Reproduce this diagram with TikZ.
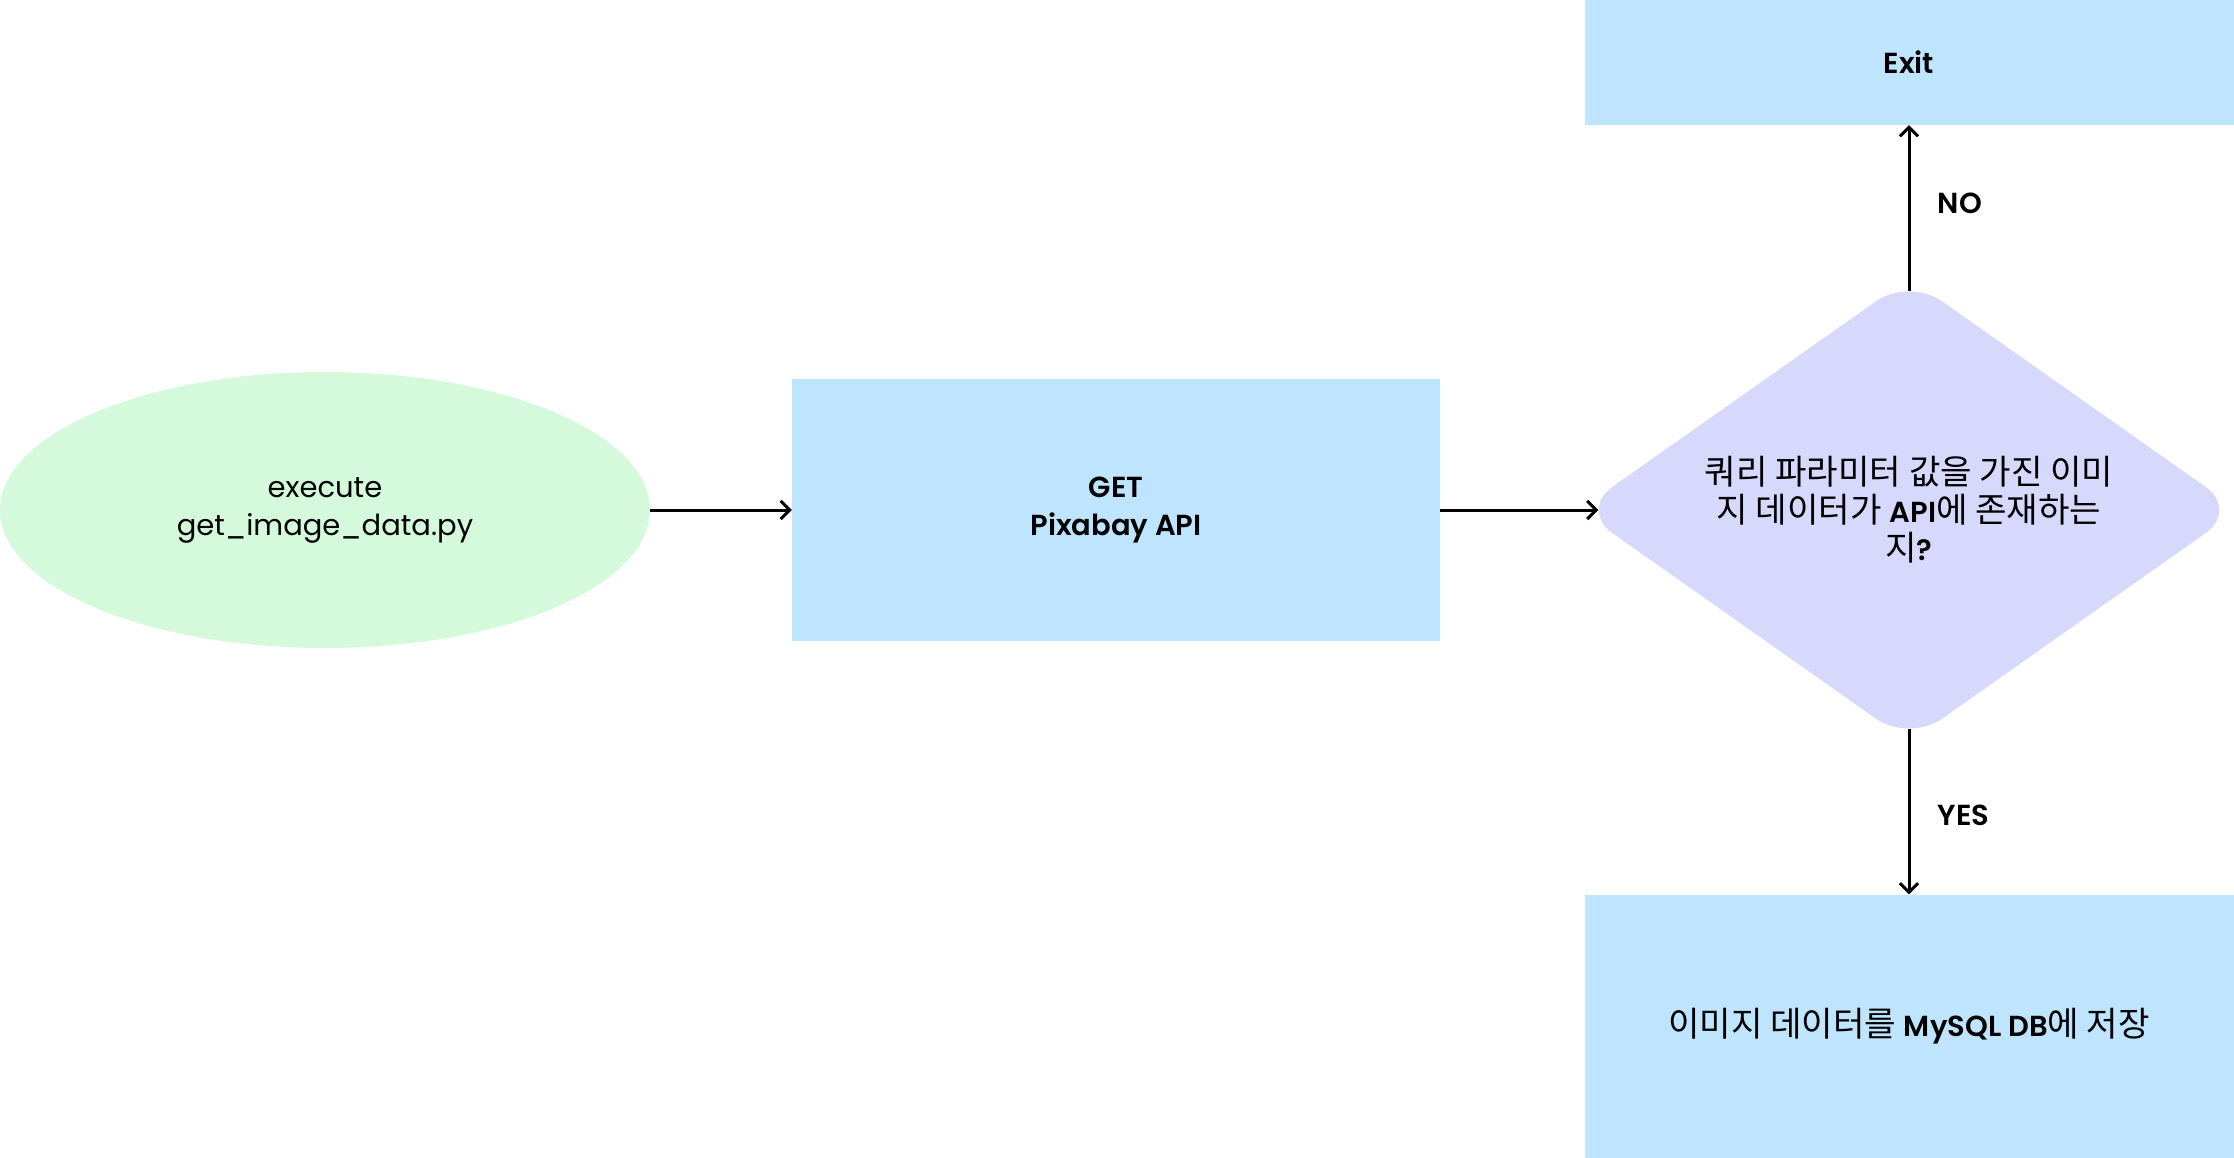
\documentclass[tikz,border=0pt]{standalone}
\usepackage{fontspec}
\setmainfont{Poppins}[BoldFont={Poppins SemiBold}]
\newfontfamily\kr{Noto Sans CJK KR}[Scale=1.18]
\usetikzlibrary{shapes.geometric,arrows.meta}
\definecolor{boxblue}{HTML}{BFE4FD}
\definecolor{ellgreen}{HTML}{D4FADB}
\definecolor{diapurple}{HTML}{D6D9FC}
\tikzset{
  txt/.style={font=\fontsize{29}{38}\selectfont, align=center, text=black},
  bluebox/.style={rectangle, fill=boxblue, draw=none, minimum width=649pt, minimum height=262pt, inner sep=0pt},
  conn/.style={line width=3pt, -{Straight Barb[length=9pt,width=18pt,line width=3pt]}},
  lbl/.style={font=\fontsize{29}{38}\selectfont\bfseries, text=black}
}
\begin{document}
\begin{tikzpicture}[x=1pt,y=-1pt]
\useasboundingbox (0,0) rectangle (2234,1158);
\node[ellipse, fill=ellgreen, minimum width=650pt, minimum height=276pt, inner sep=0pt, txt] (start) at (325,510) {execute\\get\_image\_data.py};
\node[bluebox, minimum width=648pt, txt] (get) at (1116,510) {\bfseries GET\\\bfseries Pixabay API};
\node[diamond, aspect=1.413, fill=diapurple, minimum width=659pt, minimum height=464pt, inner sep=0pt, rounded corners=40pt] (dec) at (1909,510) {};
\node[txt] (dectext) at (dec.center) {{\kr 쿼리 파라미터 값을 가진 이미}\\{\kr 지 데이터가} \textbf{API}{\kr 에 존재하는}\\{\kr 지}\textbf{?}};
\node[bluebox, minimum height=125pt, txt] (exit) at (1909,62.5) {\bfseries Exit};
\node[bluebox, minimum height=263pt, txt] (save) at (1909,1026) {{\kr 이미지 데이터를} \textbf{MySQL DB}{\kr 에 저장}};
\draw[conn] (start.east) -- (get.west);
\draw[conn] (get.east) -- ([xshift=19pt]dec.west);
\draw[conn] ([yshift=-13pt]dec.north) -- node[lbl, right=24pt, pos=0.53] (no) {NO} (exit.south);
\draw[conn] ([yshift=13pt]dec.south) -- node[lbl, right=24pt, pos=0.52] (yes) {YES} (save.north);
\end{tikzpicture}
\end{document}
